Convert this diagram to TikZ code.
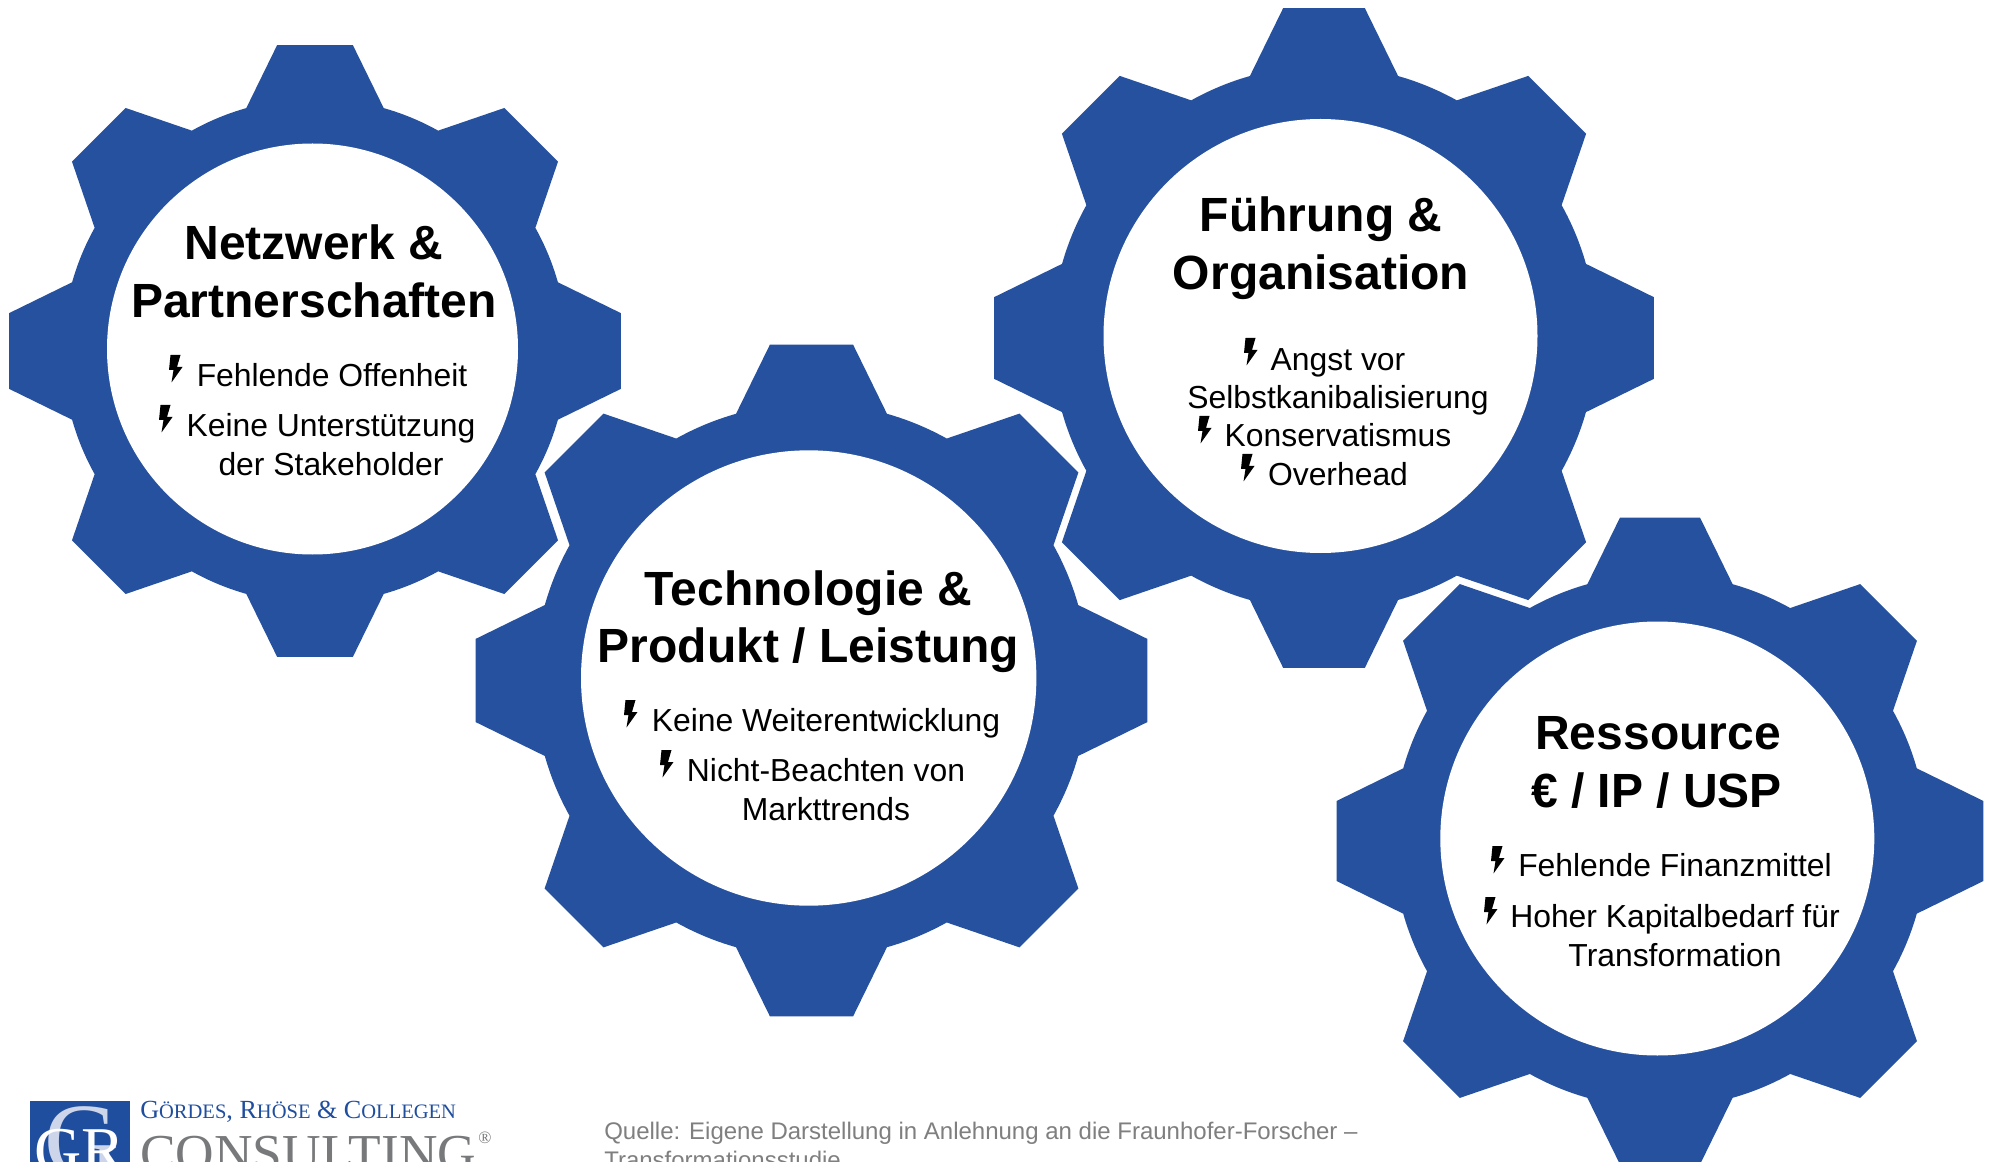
\documentclass[tikz,border=0pt]{standalone}
\usepackage{fontspec}
\setmainfont{Liberation Sans}
\newfontfamily\serifrm{Liberation Serif}
\definecolor{gearblue}{HTML}{26519F}
\definecolor{logoblue}{HTML}{1F4E9E}
\definecolor{logopale}{HTML}{CDD5EA}
\definecolor{srcgray}{HTML}{7F7F7F}
\definecolor{conshade}{HTML}{77797B}
\tikzset{
  titletext/.style={font=\fontsize{36}{36}\selectfont\bfseries,anchor=base,inner sep=0pt,text=black},
  bodytext/.style={font=\fontsize{23.9}{24}\selectfont,anchor=base,inner sep=0pt,text=black},
  srctext/.style={font=\fontsize{18}{18}\selectfont,anchor=base west,inner sep=0pt,text=srcgray},
  logotext/.style={font=\serifrm,anchor=base west,inner sep=0pt},
}
\newcommand{\gearat}[6]{% gear cx, cy, R, hole cx, cy, r
  \begin{scope}[shift={(#1,#2)},x=#3*0.75pt,y=#3*0.75pt]
    \fill[gearblue] (-15.8:.825)
      foreach \a in {0,45,...,315}{
        -- ({\a-7.07}:1.007) -- ({\a+7.07}:1.007) -- ({\a+15.8}:.825)
        arc[start angle=\a+15.8,end angle=\a+29.2,radius=.825]
      } -- cycle;
  \end{scope}
  \fill[white] (#4,#5) circle[radius=#6*0.75pt];
}
\newcommand{\boltat}[2]{%
  \fill[black] (#1,#2) ++(1.5,0) -- ++(10,0) -- ++(-3.5,12) -- ++(5.5,0) -- ++(-11,15.5) -- ++(2,-12.5) -- ++(-4.5,0) -- cycle;
}
\begin{document}
\begin{tikzpicture}[x=0.75pt,y=-0.75pt]
\useasboundingbox (0,0) rectangle (1989,1162);
\clip (0,0) rectangle (1989,1162);
\fill[white] (0,0) rectangle (1989,1162);
% gears
\gearat{315}{351}{306}{312.5}{349}{205.5}
\gearat{811.5}{680.5}{336}{808.7}{678}{227.7}
\gearat{1324}{338}{330}{1320.5}{336}{217}
\gearat{1660}{841}{323.5}{1657.3}{838.5}{217}
% gear 1 text
\node[titletext] (t1a) at (314,260) {Netzwerk \&};
\node[titletext] (t1b) at (314,318) {Partnerschaften};
\boltat{169}{355}
\node[bodytext] (b1a) at (332,387) {Fehlende Offenheit};
\boltat{159}{405}
\node[bodytext] (b1b) at (331,437) {Keine Unterstützung};
\node[bodytext] (b1c) at (331,476) {der Stakeholder};
% gear 2 text
\node[titletext] (t2a) at (808.5,605) {Technologie \&};
\node[titletext] (t2b) at (808.5,662) {Produkt / Leistung};
\boltat{624}{700}
\node[bodytext] (b2a) at (826,731) {Keine Weiterentwicklung};
\boltat{660}{750}
\node[bodytext] (b2b) at (826,781) {Nicht-Beachten von};
\node[bodytext] (b2c) at (826,820) {Markttrends};
% gear 3 text
\node[titletext] (t3a) at (1321,232) {Führung \&};
\node[titletext] (t3b) at (1321,290) {Organisation};
\boltat{1244}{338}
\node[bodytext] (b3a) at (1338,371) {Angst vor};
\node[bodytext] (b3b) at (1338,409) {Selbstkanibalisierung};
\boltat{1198}{416}
\node[bodytext] (b3c) at (1338,447) {Konservatismus};
\boltat{1241}{454}
\node[bodytext] (b3d) at (1338,485) {Overhead};
% gear 4 text
\node[titletext] (t4a) at (1658,749) {Ressource};
\node[titletext] (t4b) at (1656.5,807) {€ / IP / USP};
\boltat{1491}{846}
\node[bodytext] (b4a) at (1675,876) {Fehlende Finanzmittel};
\boltat{1484}{897}
\node[bodytext] (b4b) at (1675,927) {Hoher Kapitalbedarf für};
\node[bodytext] (b4c) at (1675,966) {Transformation};
% source
\node[srctext] (src1) at (604,1139) {Quelle: Eigene Darstellung in Anlehnung an die Fraunhofer-Forscher –};
\node[srctext] (src2) at (604,1168) {Transformationsstudie};
% logo
\fill[logoblue] (29.5,1101) rectangle (129.5,1162);
\node[logotext,text=logopale,font=\serifrm\fontsize{78}{78}\selectfont] (logoG) at (44,1175) {G};
\node[logotext,text=white,font=\serifrm\fontsize{49}{49}\selectfont] (logoGR) at (34,1172) {GR};
\node[logotext,text=logoblue,font=\serifrm\fontsize{19.6}{18}\selectfont] (logoA) at (140,1118.5) {G{\fontsize{15.4}{15}\selectfont ÖRDES}, R{\fontsize{15.4}{15}\selectfont HÖSE} \& C{\fontsize{15.4}{15}\selectfont OLLEGEN}};
\node[logotext,text=conshade,font=\serifrm\fontsize{40}{40}\selectfont] (logoB) at (140,1171) {CONSULTING};
\node[logotext,text=conshade,font=\serifrm\fontsize{13}{13}\selectfont] (logoC) at (478,1143) {®};
\end{tikzpicture}
\end{document}
